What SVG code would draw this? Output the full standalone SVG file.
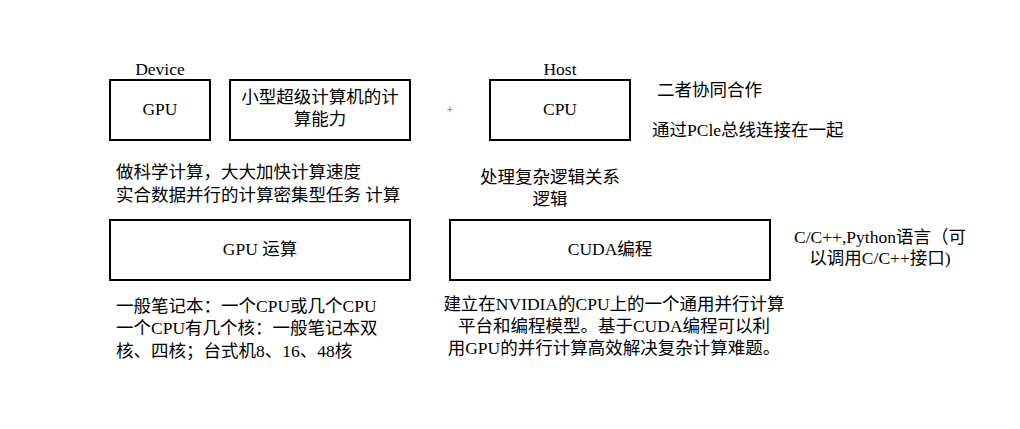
<svg xmlns="http://www.w3.org/2000/svg" width="1020" height="429" viewBox="0 0 1020 429">
<style>
text{font-family:"Liberation Serif","Noto Sans CJK SC",serif;font-size:17.5px;fill:#000}
.c{text-anchor:middle}
.box{fill:#fff;stroke:#000;stroke-width:2}
</style>
<rect width="1020" height="429" fill="#fff"/>
<g id="label-device"><text class="c" x="160" y="75">Device</text></g>
<g id="label-host"><text class="c" x="560" y="75">Host</text></g>
<g id="gpu"><rect class="box" x="110" y="80" width="100" height="60"/><text class="c" x="160" y="115">GPU</text></g>
<g id="super"><rect class="box" x="230" y="80" width="180" height="60"/><text class="c" x="320" y="103">小型超级计算机的计</text><text class="c" x="320" y="125">算能力</text></g>
<g id="plus"><text class="c" x="450" y="114" style="font-size:12px;fill:#555">+</text></g>
<g id="cpu"><rect class="box" x="490" y="80" width="140" height="60"/><text class="c" x="560" y="115">CPU</text></g>
<g id="coop"><text x="657" y="96">二者协同合作</text></g>
<g id="pcie"><text x="652" y="136">通过PCle总线连接在一起</text></g>
<g id="gpu-desc"><text x="116" y="178">做科学计算，大大加快计算速度</text><text x="116" y="201">实合数据并行的计算密集型任务 计算</text></g>
<g id="cpu-desc"><text class="c" x="550" y="183">处理复杂逻辑关系</text><text class="c" x="550" y="205">逻辑</text></g>
<g id="gpu-op"><rect class="box" x="110" y="220" width="300" height="60"/><text class="c" x="260" y="255">GPU 运算</text></g>
<g id="cuda"><rect class="box" x="450" y="220" width="320" height="60"/><text class="c" x="610" y="255">CUDA编程</text></g>
<g id="lang"><text class="c" x="880" y="243">C/C++,Python语言（可</text><text class="c" x="880" y="264">以调用C/C++接口)</text></g>
<g id="cores"><text x="116" y="312">一般笔记本：一个CPU或几个CPU</text><text x="116" y="334">一个CPU有几个核：一般笔记本双</text><text x="116" y="357">核、四核；台式机8、16、48核</text></g>
<g id="cuda-desc"><text class="c" x="614" y="310">建立在NVIDIA的CPU上的一个通用并行计算</text><text class="c" x="614" y="332">平台和编程模型。基于CUDA编程可以利</text><text class="c" x="614" y="354">用GPU的并行计算高效解决复杂计算难题。</text></g>
<g id="connectors"></g>
</svg>
